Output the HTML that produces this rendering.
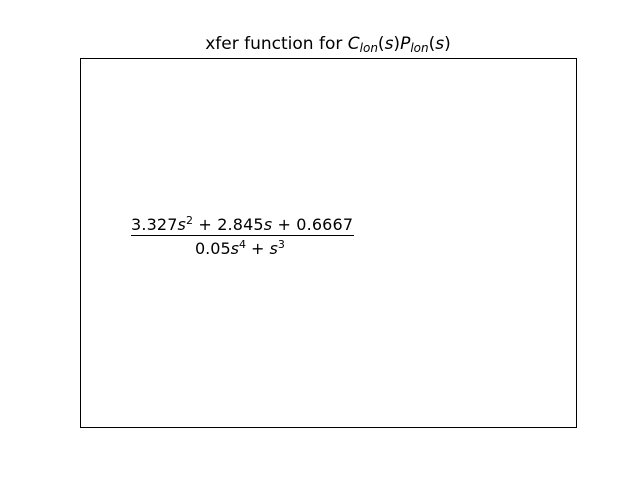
<!DOCTYPE html>
<html><head><meta charset="utf-8"><style>
html,body{margin:0;padding:0;background:#fff;}
svg{display:block;font-family:"DejaVu Sans","Liberation Sans",sans-serif;}
</style></head><body>
<svg width="640" height="480" viewBox="0 0 640 480">
<rect x="0" y="0" width="640" height="480" fill="#fff"/>
<text x="328" y="49" text-anchor="middle" font-size="17" fill="#000">xfer function for <tspan font-style="italic">C</tspan><tspan font-style="italic" font-size="12" dy="3">lon</tspan><tspan dy="-3">(</tspan><tspan font-style="italic">s</tspan>)<tspan font-style="italic">P</tspan><tspan font-style="italic" font-size="12" dy="3">lon</tspan><tspan dy="-3">(</tspan><tspan font-style="italic">s</tspan>)</text>
<rect x="80.5" y="58.5" width="496" height="369" fill="none" stroke="#000" stroke-width="1"/>
<g>
<text x="131" y="230" font-size="16" fill="#000" textLength="222">3.327<tspan font-style="italic">s</tspan><tspan font-size="11" dy="-6">2</tspan><tspan dy="6"> + 2.845</tspan><tspan font-style="italic">s</tspan> + 0.6667</text>
<line x1="131" y1="235.5" x2="354" y2="235.5" stroke="#000" stroke-width="1"/>
<text x="195" y="254" font-size="16" fill="#000">0.05<tspan font-style="italic">s</tspan><tspan font-size="11" dy="-6">4</tspan><tspan dy="6"> + </tspan><tspan font-style="italic">s</tspan><tspan font-size="11" dy="-6">3</tspan></text>
</g>
</svg>
</body></html>
